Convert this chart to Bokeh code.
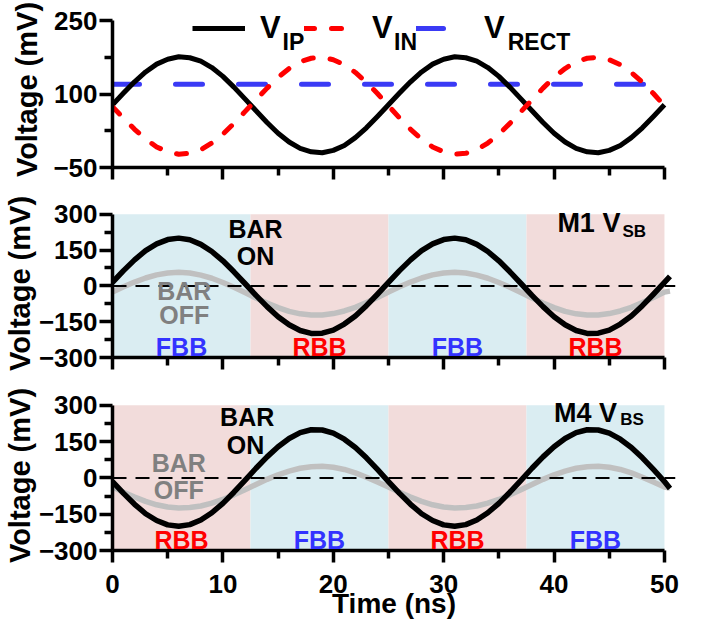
from bokeh.plotting import figure
from bokeh.layouts import column
from bokeh.models import Range1d, FixedTicker, Span, Label, Legend, LegendItem
from bokeh.embed import file_html
from bokeh.resources import INLINE

# ---------------- data ----------------
time_ns = list(range(51))
v_ip = [78, 102, 125, 145, 161, 171, 176, 174, 167, 154, 136, 114, 90, 66, 42, 20, 2, -11, -18, -20, -15, -5, 11, 31, 54,
        78, 102, 125, 145, 161, 171, 176, 174, 167, 154, 136, 114, 90, 66, 42, 20, 2, -11, -18, -20, -15, -5, 11, 31, 54, 78]
v_in = [74, 51, 28, 8, -8, -18, -23, -21, -14, 0, 18, 40, 64, 88, 112, 134, 152, 166, 173, 175, 170, 160, 144, 124, 101,
        76, 51, 28, 8, -8, -18, -23, -21, -14, 0, 18, 40, 64, 88, 112, 134, 152, 166, 173, 175, 170, 160, 144, 124, 101, 76]
rect_time = [0, 50]
v_rect = [120, 120]

time_bb = list(range(51)) + [50.5]
m1_on = [15, 64, 109, 148, 176, 194, 200, 193, 174, 144, 105, 59, 10, -40, -87, -129, -163, -187, -199, -198, -185, -160, -126, -83, -35,
         15, 64, 109, 148, 176, 194, 200, 193, 174, 144, 105, 59, 10, -40, -87, -129, -163, -187, -199, -198, -185, -160, -126, -83, -35, 15, 40]
m1_off = [-26, -4, 16, 33, 46, 54, 57, 54, 45, 32, 14, -6, -28, -51, -72, -91, -107, -117, -122, -122, -116, -105, -90, -70, -49,
          -26, -4, 16, 33, 46, 54, 57, 54, 45, 32, 14, -6, -28, -51, -72, -91, -107, -117, -122, -122, -116, -105, -90, -70, -49, -26, -22]
m4_on = [-15, -64, -109, -148, -176, -194, -200, -193, -174, -144, -105, -59, -10, 40, 87, 129, 163, 187, 199, 198, 185, 160, 126, 83, 35,
         -15, -64, -109, -148, -176, -194, -200, -193, -174, -144, -105, -59, -10, 40, 87, 129, 163, 187, 199, 198, 185, 160, 126, 83, 35, -15, -44]
m4_off = [-36, -59, -79, -97, -111, -120, -124, -122, -116, -104, -89, -70, -49, -27, -6, 13, 28, 40, 46, 48, 44, 35, 21, 3, -17,
          -38, -59, -79, -97, -111, -120, -124, -122, -116, -104, -89, -70, -49, -27, -6, 13, 28, 40, 46, 48, 44, 35, 21, 3, -17, -38, -42]

region_start = [0, 12.5, 25, 37.5]
region_end = [12.5, 25, 37.5, 50]
m1_regions = ["FBB", "RBB", "FBB", "RBB"]
m4_regions = ["RBB", "FBB", "RBB", "FBB"]

x_major = [0, 10, 20, 30, 40, 50]
x_minor = [5, 15, 25, 35, 45]
top_major = [-50, 100, 250]
top_minor = [25, 175]
bb_major = [-300, -150, 0, 150, 300]
bb_minor = [-225, -75, 75, 225]

# ---------------- styles ----------------
FONT = "Liberation Sans"
SHADE = {"FBB": "#DAEDF2", "RBB": "#F2DCDB"}
TXT = {"FBB": "#3333FF", "RBB": "#FF0000"}


def make_fig(frame_h, top, bottom, yr, ybounds, ymaj, ymin, show_x, ylab_standoff):
    p = figure(frame_width=563, frame_height=frame_h, x_range=Range1d(0, 51), y_range=Range1d(*yr),
               output_backend="svg", toolbar_location=None,
               min_border_left=110, min_border_right=20,
               min_border_top=top, min_border_bottom=bottom)
    p.outline_line_color = None
    p.grid.visible = False
    p.background_fill_color = "white"
    p.border_fill_color = "white"
    xa = p.xaxis[0]
    ya = p.yaxis[0]
    xa.ticker = FixedTicker(ticks=x_major, minor_ticks=x_minor)
    ya.ticker = FixedTicker(ticks=ymaj, minor_ticks=ymin)
    xa.bounds = (0, 50)
    ya.bounds = ybounds
    for a in (xa, ya):
        a.axis_line_width = 3.5
        a.major_tick_line_width = 3.5
        a.minor_tick_line_width = 3.5
        a.major_tick_in = 0
        a.minor_tick_in = 0
        a.major_tick_out = 12
        a.minor_tick_out = 8
        a.major_label_text_font = FONT
        a.major_label_text_font_style = "bold"
        a.major_label_text_font_size = "26px"
        a.major_label_text_color = "black"
        a.axis_label_text_font = FONT
        a.axis_label_text_font_style = "bold"
        a.axis_label_text_color = "black"
    ya.major_tick_out = 13
    ya.major_label_standoff = 2
    ya.axis_label = "Voltage (mV)"
    ya.axis_label_text_font_size = "29px"
    ya.axis_label_standoff = ylab_standoff
    if show_x:
        xa.axis_label = "Time (ns)"
        xa.axis_label_text_font_size = "28px"
        xa.major_label_standoff = 12
        xa.axis_label_standoff = -8
    else:
        xa.major_label_overrides = {v: "" for v in x_major}
        xa.major_label_text_font_size = "0px"
        xa.major_label_standoff = 0
    return p


def label(p, x, y, text, size, color="black", align="center"):
    p.add_layout(Label(x=x, y=y, text=text, text_font=FONT, text_font_size=size,
                       text_font_style="bold", text_color=color,
                       text_align=align, text_baseline="middle"))


# ---------------- panel 1 ----------------
p1 = make_fig(156, 11, 28, (-50, 268.4), (-50, 250), top_major, top_minor, False, 7)
r_rect = p1.line(rect_time, v_rect, line_color="#3A3AF5", line_width=5, line_dash="27 36", line_cap="round")
r_ip = p1.line(time_ns, v_ip, line_color="black", line_width=5, line_join="round")
r_in = p1.line(time_ns, v_in, line_color="#FF0000", line_width=5, line_dash="10 17", line_cap="round", line_join="round")
legend = Legend(items=[LegendItem(label="V", renderers=[r_ip]),
                       LegendItem(label="V", renderers=[r_in]),
                       LegendItem(label="V", renderers=[r_rect])],
                location=(80, 120), orientation="horizontal",
                glyph_width=53, glyph_height=38, label_standoff=15, label_width=44, label_height=38,
                spacing=0, padding=0, margin=0,
                border_line_color=None, background_fill_alpha=0,
                label_text_font=FONT, label_text_font_size="31px", label_text_font_style="bold",
                label_text_color="black")
p1.add_layout(legend)
label(p1, 15.4, 206, "IP", "23px", align="left")
label(p1, 25.5, 206, "IN", "23px", align="left")
label(p1, 35.8, 206, "RECT", "23px", align="left")

# ---------------- panel 2 ----------------
p2 = make_fig(148, 14, 28, (-300, 320), (-300, 300), bb_major, bb_minor, False, 0)
p2.quad(left=region_start, right=region_end, bottom=-300, top=300,
        fill_color=[SHADE[r] for r in m1_regions], line_color=None)
p2.add_layout(Span(location=0, dimension="width", line_color="black", line_width=2, line_dash="14 9"))
p2.line(time_bb, m1_off, line_color="#C0C0C0", line_width=5.5, line_join="round")
p2.line(time_bb, m1_on, line_color="black", line_width=5.5, line_join="round")
label(p2, 12.95, 240, "BAR", "25px")
label(p2, 12.95, 126, "ON", "25px")
label(p2, 6.5, -21, "BAR", "25px", color="#808080")
label(p2, 6.5, -122, "OFF", "25px", color="#808080")
for s, e, r in zip(region_start, region_end, m1_regions):
    label(p2, (s + e) / 2, -256, r, "25px", color=TXT[r])
label(p2, 40.3, 262, "M1 V", "27px", align="left")
label(p2, 46.2, 228, "SB", "17px", align="left")

# ---------------- panel 3 ----------------
p3 = make_fig(150, 15, 0, (-300, 320), (-300, 300), bb_major, bb_minor, True, 0)
p3.quad(left=region_start, right=region_end, bottom=-300, top=300,
        fill_color=[SHADE[r] for r in m4_regions], line_color=None)
p3.add_layout(Span(location=0, dimension="width", line_color="black", line_width=2, line_dash="14 9"))
p3.line(time_bb, m4_off, line_color="#C0C0C0", line_width=5.5, line_join="round")
p3.line(time_bb, m4_on, line_color="black", line_width=5.5, line_join="round")
label(p3, 12.2, 251, "BAR", "25px")
label(p3, 12.05, 135, "ON", "25px")
label(p3, 6.0, 61, "BAR", "25px", color="#808080")
label(p3, 6.0, -51, "OFF", "25px", color="#808080")
for s, e, r in zip(region_start, region_end, m4_regions):
    label(p3, (s + e) / 2, -258, r, "25px", color=TXT[r])
label(p3, 40.0, 270, "M4 V", "27px", align="left")
label(p3, 46.0, 241, "BS", "17px", align="left")

layout = column(p1, p2, p3, spacing=0)
open("out.html", "w").write(file_html(layout, INLINE))
